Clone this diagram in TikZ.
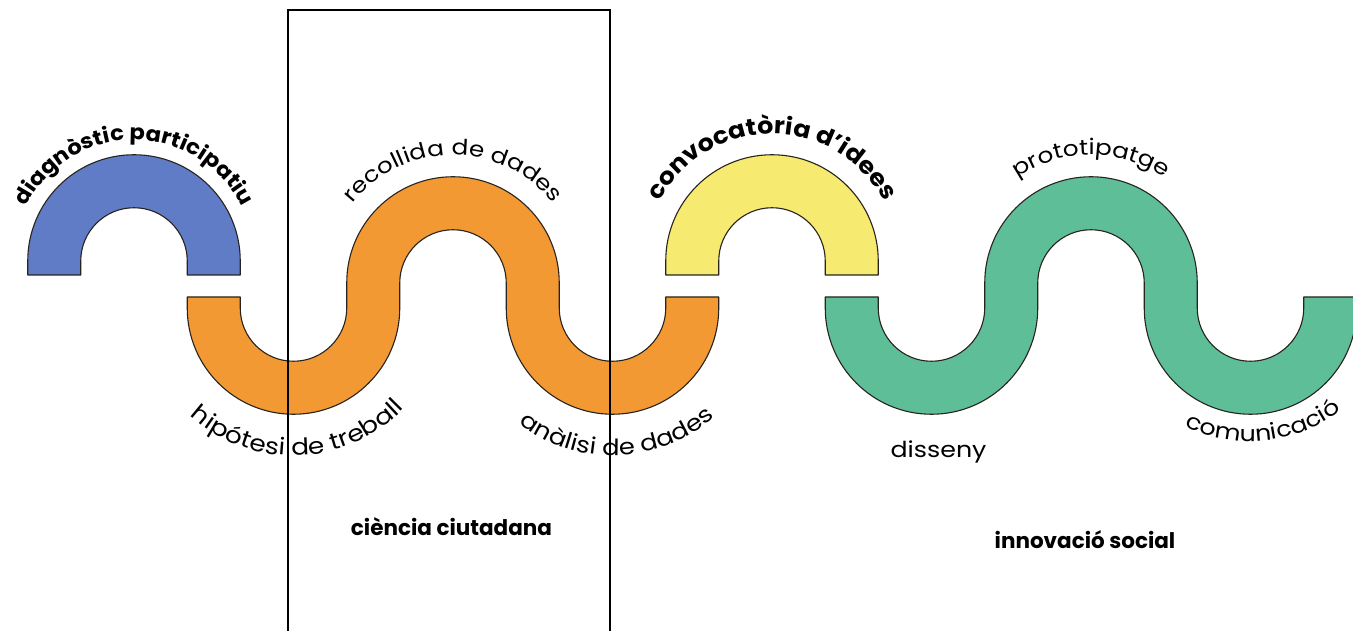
\documentclass[tikz,border=0pt]{standalone}
\usepackage{fontspec}
\setmainfont{Poppins}
\newfontfamily\lbl[FakeStretch=1.15]{Poppins}
\newfontfamily\blbl[FakeStretch=1.08]{Poppins}
\usetikzlibrary{decorations.text}
\definecolor{cblue}{RGB}{96,124,198}
\definecolor{corange}{RGB}{242,153,52}
\definecolor{cyellow}{RGB}{246,234,112}
\definecolor{cgreen}{RGB}{94,190,152}
\definecolor{cline}{RGB}{40,35,30}
\tikzset{
  band/.style={draw=cline, line width=1.1pt, line join=round},
  arctext/.style={decorate, decoration={text along path, text align=center, text={#1}}},
  flat/.style={inner sep=0pt, anchor=base, font=\lbl\fontsize{22}{22}\selectfont},
  title/.style={inner sep=0pt, anchor=base, font=\fontsize{21.5}{21.5}\selectfont\bfseries},
  frame/.style={draw=black, line width=2pt}
}
\begin{document}
\begin{tikzpicture}[x=1pt,y=1pt]
\useasboundingbox (0,0) rectangle (1353,630);
\clip (0,0) rectangle (1353,630);
\pgfmathsetmacro\Ro{106.25}
\pgfmathsetmacro\Ri{53.25}
\def\cA{134}\def\cB{293.5}\def\cC{453}\def\cD{612.5}
\def\cE{772}\def\cF{931.5}\def\cG{1091}\def\cH{1250.5}
% blue arch
\path[band, fill=cblue] ({\cA-\Ro},355) -- ({\cA-\Ro},369) arc[start angle=180,end angle=0,radius=\Ro]
  -- ({\cA+\Ro},355) -- ({\cA+\Ri},355) -- ({\cA+\Ri},369) arc[start angle=0,end angle=180,radius=\Ri]
  -- ({\cA-\Ri},355) -- cycle;
% yellow arch
\path[band, fill=cyellow] ({\cE-\Ro},355) -- ({\cE-\Ro},369) arc[start angle=180,end angle=0,radius=\Ro]
  -- ({\cE+\Ro},355) -- ({\cE+\Ri},355) -- ({\cE+\Ri},369) arc[start angle=0,end angle=180,radius=\Ri]
  -- ({\cE-\Ri},355) -- cycle;
% orange wave
\path[band, fill=corange] ({\cB-\Ro},333) -- ({\cB-\Ro},322) arc[start angle=180,end angle=360,radius=\Ro]
  -- ({\cC-\Ri},347) arc[start angle=180,end angle=0,radius=\Ri]
  -- ({\cD-\Ro},322) arc[start angle=180,end angle=360,radius=\Ro]
  -- ({\cD+\Ro},333) -- ({\cD+\Ri},333) -- ({\cD+\Ri},322) arc[start angle=360,end angle=180,radius=\Ri]
  -- ({\cC+\Ro},347) arc[start angle=0,end angle=180,radius=\Ro]
  -- ({\cB+\Ri},322) arc[start angle=360,end angle=180,radius=\Ri]
  -- ({\cB-\Ri},333) -- cycle;
% green wave
\path[band, fill=cgreen] ({\cF-\Ro},333) -- ({\cF-\Ro},322) arc[start angle=180,end angle=360,radius=\Ro]
  -- ({\cG-\Ri},347) arc[start angle=180,end angle=0,radius=\Ri]
  -- ({\cH-\Ro},322) arc[start angle=180,end angle=360,radius=\Ro]
  -- ({\cH+\Ro},333) -- ({\cH+\Ri},333) -- ({\cH+\Ri},322) arc[start angle=360,end angle=180,radius=\Ri]
  -- ({\cG+\Ro},347) arc[start angle=0,end angle=180,radius=\Ro]
  -- ({\cF+\Ri},322) arc[start angle=360,end angle=180,radius=\Ri]
  -- ({\cF-\Ri},333) -- cycle;
% curved labels above
\path[arctext={|\blbl\fontsize{21}{21}\selectfont\bfseries|diagnòstic participatiu}] ({\cA-121},369) arc[start angle=180,end angle=0,radius=121];
\path[arctext={|\lbl\fontsize{21.5}{21.5}\selectfont|recollida de dades}] ({\cC-128},347) arc[start angle=180,end angle=0,radius=128];
\path[arctext={|\blbl\fontsize{23.5}{23.5}\selectfont\bfseries|convocatòria d’idees}] ({\cE-127},369) arc[start angle=180,end angle=0,radius=127];
\path[arctext={|\lbl\fontsize{21.5}{21.5}\selectfont|prototipatge}] ({\cG-128},347) arc[start angle=180,end angle=0,radius=128];
% curved labels below
\path[arctext={|\lbl\fontsize{23}{23}\selectfont|hipótesi de treball}] ({\cB-153},322) arc[start angle=182,end angle=362,radius=153];
\path[arctext={|\lbl\fontsize{22.5}{22.5}\selectfont|anàlisi de dades}] ({\cD-153},322) arc[start angle=182,end angle=362,radius=153];
\path[arctext={|\lbl\fontsize{22}{22}\selectfont|comunicació}] ({\cH-149},322) arc[start angle=186,end angle=366,radius=149];
% straight labels
\node[flat] (dis) at (938.5,172) {disseny};
\node[title] (cc) at (451.5,95) {ciència ciutadana};
\node[title] (is) at (1085,82) {innovació social};
% frame
\draw[frame] (288,-10) -- (288,620) -- (610,620) -- (610,-10);
\end{tikzpicture}
\end{document}
